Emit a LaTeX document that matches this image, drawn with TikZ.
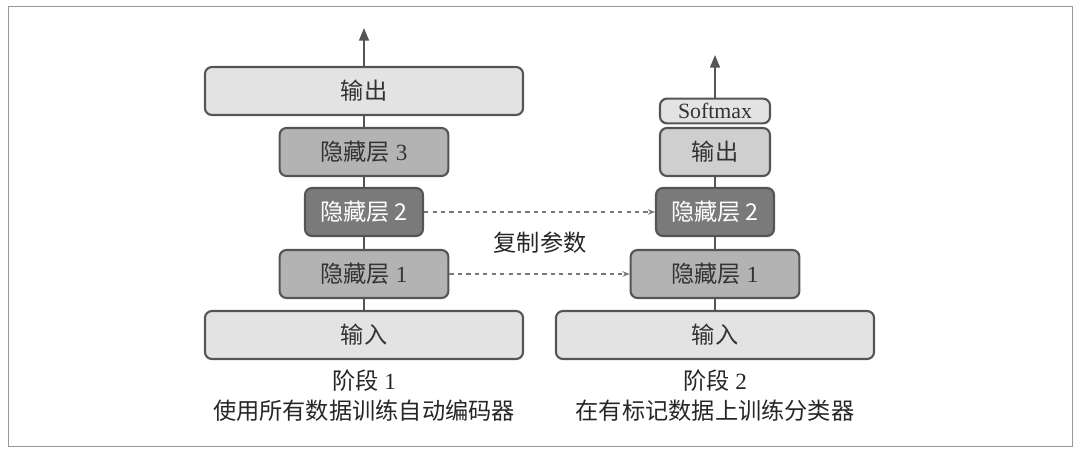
\documentclass[tikz,border=0pt]{standalone}
\usepackage{fontspec}
\setmainfont{Liberation Serif}
\newfontfamily\cjk{Noto Sans CJK SC}
\usetikzlibrary{arrows.meta}
\definecolor{boxline}{HTML}{555555}
\definecolor{lightfill}{HTML}{E3E3E3}
\definecolor{midfill}{HTML}{B3B3B3}
\definecolor{palefill}{HTML}{CFCFCF}
\definecolor{darkfill}{HTML}{7A7A7A}
\begin{document}
\begin{tikzpicture}[x=0.025cm, y=-0.025cm,
    layer/.style={draw=boxline, line width=1.5pt, rounded corners=5pt, inner sep=0pt,
      minimum height=1.2cm, text=black!80, font=\fontsize{16.5}{18}\selectfont},
    wide/.style={layer, fill=lightfill, minimum width=7.95cm},
    mid/.style={layer, fill=midfill, minimum width=4.22cm},
    dark/.style={layer, fill=darkfill, minimum width=2.95cm, text=white},
    link/.style={draw=boxline, line width=1.5pt},
    up/.style={link, -{Triangle[length=9pt, width=7pt]}},
    copy/.style={draw=boxline!80, line width=0.8pt, dashed, -{Stealth[length=5pt, width=4pt]}},
    caption/.style={text=black!85, font=\fontsize{16.5}{18}\selectfont}]
  \useasboundingbox (0,0) rectangle (1080,454);
  \draw[black!40, line width=0.6pt] (8,6) rectangle (1072,446);

  % stage 1
  \node[wide] (outA) at (364,91) {\cjk 输出};
  \node[mid] (h3A) at (364,152) {{\cjk 隐藏层} 3};
  \node[dark] (h2A) at (364,212) {\cjk 隐藏层 2};
  \node[mid] (h1A) at (364,274) {{\cjk 隐藏层} 1};
  \node[wide] (inA) at (364,335) {\cjk 输入};
  \coordinate (topA) at (364,28);

  \node[caption] (stageA) at (364,381) {{\cjk 阶段} 1};
  \node[caption] (taskA) at (364,411) {\cjk 使用所有数据训练自动编码器};

  % stage 2
  \node[layer, fill=lightfill, minimum width=2.75cm, minimum height=0.62cm,
    font=\fontsize{15.5}{17}\selectfont] (softB) at (715,111) {Softmax};
  \node[layer, fill=palefill, minimum width=2.75cm] (outB) at (715,152) {\cjk 输出};
  \node[dark] (h2B) at (715,212) {\cjk 隐藏层 2};
  \node[mid] (h1B) at (715,274) {{\cjk 隐藏层} 1};
  \node[wide] (inB) at (715,335) {\cjk 输入};
  \coordinate (topB) at (715,55);

  \node[caption] (stageB) at (715,381) {{\cjk 阶段} 2};
  \node[caption] (taskB) at (715,411) {\cjk 在有标记数据上训练分类器};

  % connectors
  \draw[link] (inA) -- (h1A);
  \draw[link] (h1A) -- (h2A);
  \draw[link] (h2A) -- (h3A);
  \draw[link] (h3A) -- (outA);
  \draw[up] (outA) -- (topA);

  \draw[link] (inB) -- (h1B);
  \draw[link] (h1B) -- (h2B);
  \draw[link] (h2B) -- (outB);
  \draw[up] (softB) -- (topB);

  % copied weights
  \draw[copy] (h2A) -- (h2B);
  \draw[copy] (h1A) -- (h1B);
  \node[caption] (copyLbl) at (540,243) {\cjk 复制参数};
\end{tikzpicture}
\end{document}
